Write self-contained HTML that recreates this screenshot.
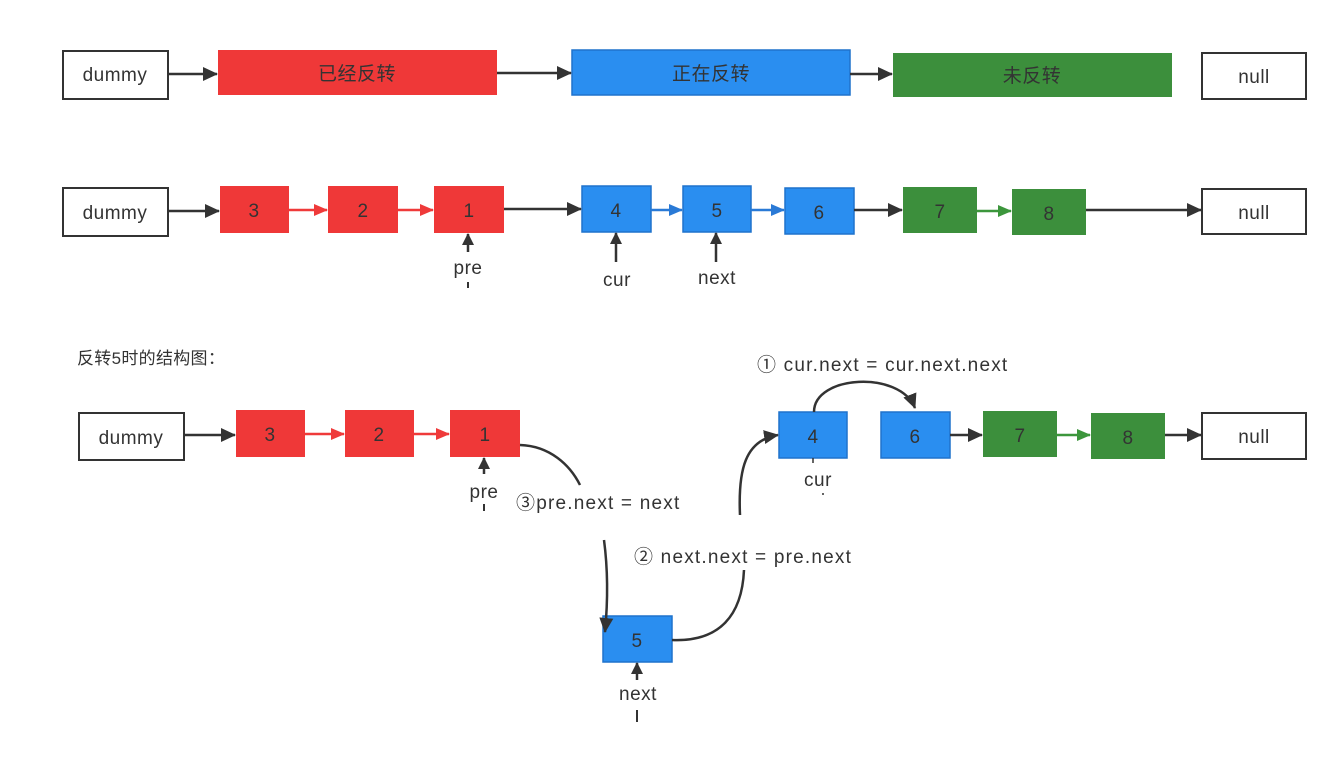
<!DOCTYPE html>
<html><head><meta charset="utf-8"><style>
html,body{margin:0;padding:0;background:#fff;}
svg text{font-family:"Liberation Sans","Noto Sans CJK SC",sans-serif;fill:#333;}
</style></head><body>
<svg width="1342" height="762" viewBox="0 0 1342 762" xmlns="http://www.w3.org/2000/svg">
<defs>
<marker id="ak" markerWidth="12" markerHeight="12" refX="11" refY="6" orient="auto" markerUnits="userSpaceOnUse" viewBox="0 0 12 12"><path d="M0,0 L12,6 L0,12 z" fill="#333"/></marker>
<marker id="ar" markerWidth="14" markerHeight="14" refX="13" refY="7" orient="auto" markerUnits="userSpaceOnUse" viewBox="0 0 14 14"><path d="M0,1 L14,7 L0,13 z" fill="#ef3a3a"/></marker>
<marker id="ab" markerWidth="14" markerHeight="14" refX="13" refY="7" orient="auto" markerUnits="userSpaceOnUse" viewBox="0 0 14 14"><path d="M0,1 L14,7 L0,13 z" fill="#2a7ad6"/></marker>
<marker id="ag" markerWidth="14" markerHeight="14" refX="13" refY="7" orient="auto" markerUnits="userSpaceOnUse" viewBox="0 0 14 14"><path d="M0,1 L14,7 L0,13 z" fill="#3c963c"/></marker>
<marker id="ak2" markerWidth="16" markerHeight="16" refX="14" refY="8" orient="auto" markerUnits="userSpaceOnUse" viewBox="0 0 16 16"><path d="M0,1 L15,8 L0,15 z" fill="#333"/></marker>
</defs>
<g font-size="19" text-anchor="middle" letter-spacing="0.5">
<!-- Row 1 -->
<rect x="63" y="51" width="105" height="48" fill="#fff" stroke="#333" stroke-width="2"/><text x="115" y="81">dummy</text>
<rect x="218" y="50" width="279" height="45" fill="#ef3838"/><text x="357" y="80">已经反转</text>
<rect x="572" y="50" width="278" height="45" fill="#2a8ef0" stroke="#1f72cc" stroke-width="1.5"/><text x="711" y="80">正在反转</text>
<rect x="893" y="53" width="279" height="44" fill="#3c8f3c"/><text x="1032" y="82">未反转</text>
<rect x="1202" y="53" width="104" height="46" fill="#fff" stroke="#333" stroke-width="2"/><text x="1254" y="83">null</text>
<line x1="168" y1="74" x2="217" y2="74" stroke="#333" stroke-width="2.5" marker-end="url(#ak2)"/>
<line x1="497" y1="73" x2="571" y2="73" stroke="#333" stroke-width="2.5" marker-end="url(#ak2)"/>
<line x1="850" y1="74" x2="892" y2="74" stroke="#333" stroke-width="2.5" marker-end="url(#ak2)"/>

<!-- Row 2 -->
<rect x="63" y="188" width="105" height="48" fill="#fff" stroke="#333" stroke-width="2"/><text x="115" y="219">dummy</text>
<rect x="220" y="186" width="69" height="47" fill="#ef3838"/><text x="254" y="217">3</text>
<rect x="328" y="186" width="70" height="47" fill="#ef3838"/><text x="363" y="217">2</text>
<rect x="434" y="186" width="70" height="47" fill="#ef3838"/><text x="469" y="217">1</text>
<rect x="582" y="186" width="69" height="46" fill="#2a8ef0" stroke="#1f72cc" stroke-width="1.5"/><text x="616" y="217">4</text>
<rect x="683" y="186" width="68" height="46" fill="#2a8ef0" stroke="#1f72cc" stroke-width="1.5"/><text x="717" y="217">5</text>
<rect x="785" y="188" width="69" height="46" fill="#2a8ef0" stroke="#1f72cc" stroke-width="1.5"/><text x="819" y="219">6</text>
<rect x="903" y="187" width="74" height="46" fill="#3c8f3c"/><text x="940" y="218">7</text>
<rect x="1012" y="189" width="74" height="46" fill="#3c8f3c"/><text x="1049" y="220">8</text>
<rect x="1202" y="189" width="104" height="45" fill="#fff" stroke="#333" stroke-width="2"/><text x="1254" y="219">null</text>
<line x1="168" y1="211" x2="219" y2="211" stroke="#333" stroke-width="2.5" marker-end="url(#ak2)"/>
<line x1="289" y1="210" x2="327" y2="210" stroke="#ef3a3a" stroke-width="2.5" marker-end="url(#ar)"/>
<line x1="398" y1="210" x2="433" y2="210" stroke="#ef3a3a" stroke-width="2.5" marker-end="url(#ar)"/>
<line x1="504" y1="209" x2="581" y2="209" stroke="#333" stroke-width="2.5" marker-end="url(#ak2)"/>
<line x1="651" y1="210" x2="682" y2="210" stroke="#2a7ad6" stroke-width="2.5" marker-end="url(#ab)"/>
<line x1="751" y1="210" x2="784" y2="210" stroke="#2a7ad6" stroke-width="2.5" marker-end="url(#ab)"/>
<line x1="854" y1="210" x2="902" y2="210" stroke="#333" stroke-width="2.5" marker-end="url(#ak2)"/>
<line x1="977" y1="211" x2="1011" y2="211" stroke="#3c963c" stroke-width="2.5" marker-end="url(#ag)"/>
<line x1="1086" y1="210" x2="1201" y2="210" stroke="#333" stroke-width="2.5" marker-end="url(#ak2)"/>
<line x1="468" y1="252" x2="468" y2="234" stroke="#333" stroke-width="2.5" marker-end="url(#ak)"/>
<text x="468" y="274">pre</text><line x1="468" y1="282" x2="468" y2="288" stroke="#333" stroke-width="2"/>
<line x1="616" y1="262" x2="616" y2="233" stroke="#333" stroke-width="2.5" marker-end="url(#ak)"/>
<text x="617" y="286">cur</text>
<line x1="716" y1="262" x2="716" y2="233" stroke="#333" stroke-width="2.5" marker-end="url(#ak)"/>
<text x="717" y="284">next</text>

<!-- Row 3 -->
<text x="77" y="364" text-anchor="start" font-size="17" letter-spacing="0.3">反转5时的结构图：</text>
<rect x="79" y="413" width="105" height="47" fill="#fff" stroke="#333" stroke-width="2"/><text x="131" y="444">dummy</text>
<rect x="236" y="410" width="69" height="47" fill="#ef3838"/><text x="270" y="441">3</text>
<rect x="345" y="410" width="69" height="47" fill="#ef3838"/><text x="379" y="441">2</text>
<rect x="450" y="410" width="70" height="47" fill="#ef3838"/><text x="485" y="441">1</text>
<rect x="779" y="412" width="68" height="46" fill="#2a8ef0" stroke="#1f72cc" stroke-width="1.5"/><text x="813" y="443">4</text>
<rect x="881" y="412" width="69" height="46" fill="#2a8ef0" stroke="#1f72cc" stroke-width="1.5"/><text x="915" y="443">6</text>
<rect x="983" y="411" width="74" height="46" fill="#3c8f3c"/><text x="1020" y="442">7</text>
<rect x="1091" y="413" width="74" height="46" fill="#3c8f3c"/><text x="1128" y="444">8</text>
<rect x="1202" y="413" width="104" height="46" fill="#fff" stroke="#333" stroke-width="2"/><text x="1254" y="443">null</text>
<rect x="603" y="616" width="69" height="46" fill="#2a8ef0" stroke="#1f72cc" stroke-width="1.5"/><text x="637" y="647">5</text>
<line x1="184" y1="435" x2="235" y2="435" stroke="#333" stroke-width="2.5" marker-end="url(#ak2)"/>
<line x1="305" y1="434" x2="344" y2="434" stroke="#ef3a3a" stroke-width="2.5" marker-end="url(#ar)"/>
<line x1="414" y1="434" x2="449" y2="434" stroke="#ef3a3a" stroke-width="2.5" marker-end="url(#ar)"/>
<line x1="950" y1="435" x2="982" y2="435" stroke="#333" stroke-width="2.5" marker-end="url(#ak2)"/>
<line x1="1057" y1="435" x2="1090" y2="435" stroke="#3c963c" stroke-width="2.5" marker-end="url(#ag)"/>
<line x1="1165" y1="435" x2="1201" y2="435" stroke="#333" stroke-width="2.5" marker-end="url(#ak2)"/>
<line x1="484" y1="474" x2="484" y2="458" stroke="#333" stroke-width="2.5" marker-end="url(#ak)"/>
<text x="484" y="498">pre</text><line x1="484" y1="504" x2="484" y2="511" stroke="#333" stroke-width="2"/>
<line x1="813" y1="458" x2="813" y2="463" stroke="#333" stroke-width="1.5"/>
<text x="818" y="486">cur</text><circle cx="823" cy="494" r="1" fill="#333"/>
<line x1="637" y1="680" x2="637" y2="663" stroke="#333" stroke-width="2.5" marker-end="url(#ak)"/>
<text x="638" y="700">next</text><line x1="637" y1="710" x2="637" y2="722" stroke="#333" stroke-width="2"/>
<!-- curves -->
<path d="M520,445 C550,446 570,465 580,485" fill="none" stroke="#333" stroke-width="2.5"/>
<path d="M604,540 C608,570 608,600 605,632" fill="none" stroke="#333" stroke-width="2.5" marker-end="url(#ak2)"/>
<path d="M672,640 C720,642 742,615 744,570" fill="none" stroke="#333" stroke-width="2.5"/>
<path d="M740,515 C738,470 745,440 778,435" fill="none" stroke="#333" stroke-width="2.5" marker-end="url(#ak2)"/>
<path d="M814,412 C814,375 900,370 915,408" fill="none" stroke="#333" stroke-width="2.5" marker-end="url(#ak2)"/>
<g text-anchor="start" font-size="19" letter-spacing="1.2">
<text x="516" y="509">③pre.next = next</text>
<text x="634" y="563">② next.next = pre.next</text>
<text x="757" y="371">① cur.next = cur.next.next</text>
</g>
</g>
</svg>
</body></html>
